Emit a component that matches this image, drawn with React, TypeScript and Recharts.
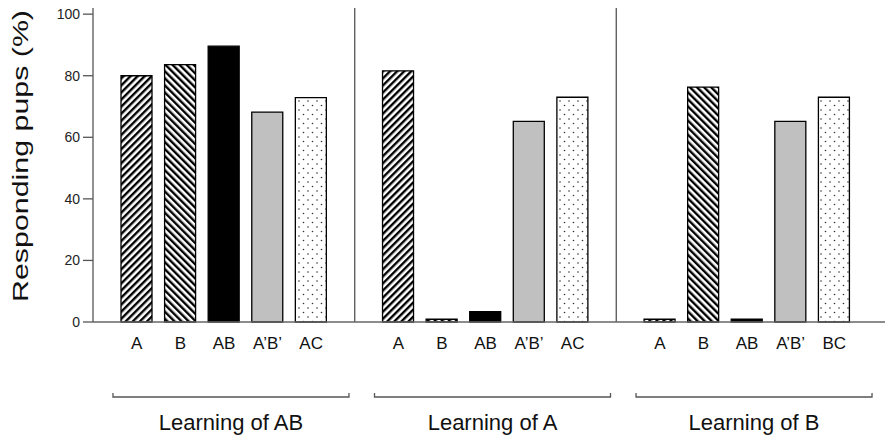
import React from "react";
import { BarChart, Bar, Cell, XAxis, YAxis, ReferenceLine } from "recharts";

const labels = ["A", "B", "AB", "A’B’", "AC", "", "A", "B", "AB", "A’B’", "AC", "", "A", "B", "AB", "A’B’", "BC"];
const values = [80, 83.6, 89.6, 68.2, 72.9, null, 81.6, 0.9, 3.4, 65.2, 73, null, 0.9, 76.3, 0.9, 65.2, 73];
const yTicks = [0, 20, 40, 60, 80, 100];
const separators = [5, 11];
const groups = [
  { mid: 2, label: "Learning of AB" },
  { mid: 8, label: "Learning of A" },
  { mid: 14, label: "Learning of B" },
];

const rows = labels.map((label, i) => ({ id: String(i), label, value: values[i] }));

const FONT = "Arial, 'Liberation Sans', sans-serif";

const fillFor = (label: string) => {
  if (label === "A") return "url(#fwd)";
  if (label === "B") return "url(#back)";
  if (label === "AB") return "#000";
  if (label === "A’B’") return "#c0c0c0";
  return "url(#dots)";
};

const YLabel = () => (
  <text
    x={28}
    y={156}
    transform="rotate(-90 28 156)"
    textAnchor="middle"
    fontSize={22}
    fontFamily={FONT}
    fill="#111"
    textLength={292}
    lengthAdjust="spacingAndGlyphs"
  >
    Responding pups (%)
  </text>
);

const GroupTick = (props: any) => {
  const { x, y, payload } = props;
  const g = groups.find((gr) => String(gr.mid) === payload.value);
  if (!g) return null;
  const x0 = x - 111;
  const x1 = x + 125;
  const by = y + 25;
  return (
    <g>
      <path
        d={`M${x0},${by - 4} L${x0},${by} L${x1},${by} L${x1},${by - 4}`}
        fill="none"
        stroke="#555"
        strokeWidth={1.3}
      />
      <text x={(x0 + x1) / 2} y={y + 58} textAnchor="middle" fontSize={22} fontFamily={FONT} fill="#111">
        {g.label}
      </text>
    </g>
  );
};

export default function App() {
  return (
    <div style={{ position: "absolute", left: 0, top: 0, background: "#fff" }}>
      <BarChart
        width={892}
        height={443}
        data={rows}
        margin={{ top: 8, right: 7, left: 33, bottom: 11 }}
        barSize={31}
      >
        <defs>
          <pattern id="fwd" width="5" height="5" patternUnits="userSpaceOnUse" patternTransform="rotate(45)">
            <rect width="5" height="5" fill="#fff" />
            <rect width="2.4" height="5" fill="#000" />
          </pattern>
          <pattern id="back" width="5" height="5" patternUnits="userSpaceOnUse" patternTransform="rotate(-45)">
            <rect width="5" height="5" fill="#fff" />
            <rect width="2.4" height="5" fill="#000" />
          </pattern>
          <pattern id="dots" width="9" height="9" patternUnits="userSpaceOnUse">
            <rect width="9" height="9" fill="#fff" />
            <circle cx="2" cy="2" r="0.8" fill="#333" />
            <circle cx="6.5" cy="6.5" r="0.8" fill="#333" />
          </pattern>
        </defs>
        <XAxis
          dataKey="id"
          interval={0}
          height={50}
          padding={{ left: 22, right: 29 }}
          tickFormatter={(v: string) => labels[Number(v)]}
          tickLine={false}
          tickSize={6}
          tickMargin={9}
          axisLine={{ stroke: "#666", strokeWidth: 1.3 }}
          tick={{ fontSize: 17, fill: "#111", fontFamily: FONT }}
        />
        <XAxis
          xAxisId="grp"
          dataKey="id"
          interval={0}
          height={60}
          padding={{ left: 22, right: 29 }}
          axisLine={false}
          tickLine={false}
          tickSize={0}
          tickMargin={0}
          tick={<GroupTick />}
        />
        <YAxis
          width={60}
          domain={[0, 102]}
          ticks={yTicks}
          tickSize={10}
          tickMargin={3}
          axisLine={{ stroke: "#555", strokeWidth: 1.3 }}
          tickLine={{ stroke: "#555", strokeWidth: 1.3 }}
          tick={{ fontSize: 14, fill: "#222", fontFamily: FONT }}
          label={{ content: <YLabel /> }}
        />
        {separators.map((i) => (
          <ReferenceLine key={i} x={String(i)} stroke="#555" strokeWidth={1.3} />
        ))}
        <Bar dataKey="value" stroke="#000" strokeWidth={1.3} isAnimationActive={false}>
          {rows.map((r) => (
            <Cell key={r.id} fill={fillFor(r.label)} />
          ))}
        </Bar>
      </BarChart>
    </div>
  );
}
